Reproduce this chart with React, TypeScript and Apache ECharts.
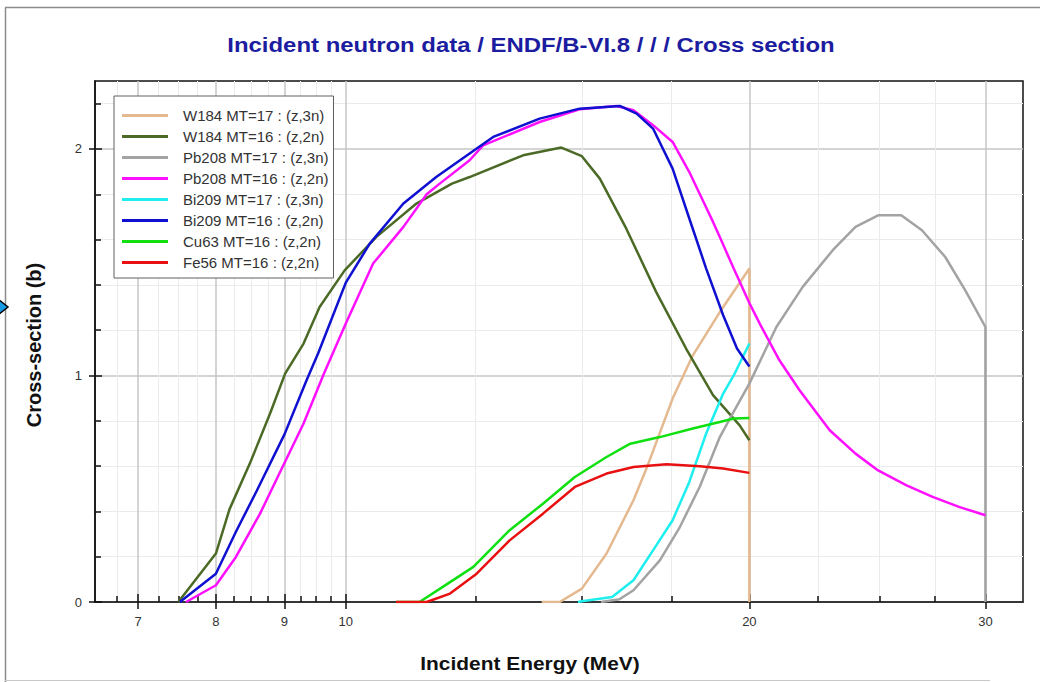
import React, { useEffect, useRef } from "react";
import * as echarts from "echarts";

const FONT = '"Liberation Sans", Arial, Helvetica, sans-serif';

const TITLE = "Incident neutron data / ENDF/B-VI.8 / / / Cross section";
const X_NAME = "Incident Energy (MeV)";
const Y_NAME = "Cross-section (b)";

const SERIES_NAMES = [
  "W184 MT=17 : (z,3n)",
  "W184 MT=16 : (z,2n)",
  "Pb208 MT=17 : (z,3n)",
  "Pb208 MT=16 : (z,2n)",
  "Bi209 MT=17 : (z,3n)",
  "Bi209 MT=16 : (z,2n)",
  "Cu63 MT=16 : (z,2n)",
  "Fe56 MT=16 : (z,2n)",
];
const SERIES_COLORS = [
  "#E5B98F",
  "#4B6A26",
  "#A3A3A3",
  "#FF10FF",
  "#1EEEEE",
  "#1010D0",
  "#10E010",
  "#E81010",
];

// Energies (MeV) and cross sections (b)
const W184_MT17_E = [14.0, 14.44, 15.0, 15.65, 16.39, 16.76, 17.53, 18.15, 19.01, 20.0, 20.0];
const W184_MT17_XS = [0, 0, 0.059, 0.214, 0.449, 0.589, 0.898, 1.089, 1.28, 1.472, 0];

const W184_MT16_E = [7.5, 8.0, 8.19, 8.48, 8.78, 9.01, 9.3, 9.56, 9.98, 10.54, 11.29, 12.0, 12.37, 13.56, 14.48, 15.0, 15.47, 16.19, 17.04, 17.94, 18.79, 19.67, 20.0];
const W184_MT16_XS = [0, 0.214, 0.41, 0.611, 0.832, 1.008, 1.141, 1.302, 1.464, 1.612, 1.759, 1.847, 1.876, 1.972, 2.006, 1.968, 1.869, 1.648, 1.369, 1.119, 0.913, 0.78, 0.714];

const PB208_MT17_E = [15.5, 16.0, 16.39, 17.15, 17.75, 18.37, 19.01, 19.47, 20.0, 20.95, 21.92, 23.08, 24.0, 24.95, 25.96, 26.9, 28.0, 28.98, 30.0, 30.0];
const PB208_MT17_XS = [0, 0.012, 0.052, 0.184, 0.331, 0.51, 0.728, 0.84, 0.964, 1.214, 1.391, 1.553, 1.656, 1.707, 1.707, 1.641, 1.523, 1.376, 1.214, 0];

const PB208_MT16_E = [7.6, 8.0, 8.28, 8.63, 8.97, 9.3, 9.63, 10.0, 10.48, 11.04, 11.49, 11.75, 12.37, 12.66, 13.95, 14.94, 15.92, 16.39, 16.95, 17.53, 18.04, 18.37, 18.79, 19.01, 19.47, 20.0, 20.36, 21.06, 21.8, 22.96, 24.0, 24.95, 26.2, 27.4, 28.7, 30.0];
const PB208_MT16_XS = [0, 0.074, 0.199, 0.39, 0.596, 0.788, 1.008, 1.229, 1.494, 1.656, 1.8, 1.847, 1.95, 2.016, 2.119, 2.175, 2.19, 2.171, 2.105, 2.031, 1.898, 1.8, 1.678, 1.611, 1.472, 1.32, 1.229, 1.067, 0.935, 0.758, 0.655, 0.581, 0.515, 0.464, 0.419, 0.383];

const BI209_MT17_E = [14.9, 15.0, 15.8, 16.39, 16.95, 17.53, 18.04, 18.57, 19.12, 19.47, 20.0];
const BI209_MT17_XS = [0, 0.003, 0.022, 0.096, 0.228, 0.361, 0.53, 0.744, 0.92, 1.0, 1.141];

const BI209_MT16_E = [7.52, 8.0, 8.28, 8.58, 9.0, 9.35, 9.54, 10.0, 10.42, 11.04, 11.68, 12.37, 12.88, 13.95, 14.94, 16.01, 16.48, 16.95, 17.53, 18.04, 18.57, 19.12, 19.58, 20.0];
const BI209_MT16_XS = [0, 0.125, 0.31, 0.49, 0.74, 0.98, 1.1, 1.41, 1.582, 1.759, 1.876, 1.98, 2.053, 2.134, 2.178, 2.19, 2.156, 2.09, 1.913, 1.693, 1.472, 1.266, 1.119, 1.04];

const CU63_MT16_E = [10.9, 11.35, 11.82, 12.45, 13.25, 14.03, 14.82, 15.65, 16.3, 17.15, 18.15, 19.01, 19.47, 20.0];
const CU63_MT16_XS = [0, 0, 0.068, 0.155, 0.317, 0.434, 0.552, 0.64, 0.699, 0.728, 0.766, 0.795, 0.81, 0.812];

const FE56_MT16_E = [10.9, 11.49, 11.96, 12.52, 13.25, 14.03, 14.82, 15.65, 16.39, 17.35, 18.37, 19.12, 20.0];
const FE56_MT16_XS = [0, 0, 0.037, 0.125, 0.272, 0.39, 0.508, 0.567, 0.596, 0.608, 0.599, 0.589, 0.57];

const SERIES_E = [W184_MT17_E, W184_MT16_E, PB208_MT17_E, PB208_MT16_E, BI209_MT17_E, BI209_MT16_E, CU63_MT16_E, FE56_MT16_E];
const SERIES_XS = [W184_MT17_XS, W184_MT16_XS, PB208_MT17_XS, PB208_MT16_XS, BI209_MT17_XS, BI209_MT16_XS, CU63_MT16_XS, FE56_MT16_XS];

// Axis ranges and ticks
const X_MIN = 6.5;
const X_MAX = 32;
const Y_MIN = 0;
const Y_MAX = 2.3;
const X_MAJOR_TICKS = [7, 8, 9, 10, 20, 30];
const X_MINOR_TICKS = [6.75, 7.25, 7.5, 7.75, 8.25, 8.5, 8.75, 9.25, 9.5, 9.75, 12.5, 15, 17.5, 22.5, 25, 27.5];
const Y_MAJOR_TICKS = [0, 1, 2];
const Y_MINOR_TICKS = [0.2, 0.4, 0.6, 0.8, 1.2, 1.4, 1.6, 1.8, 2.2];

const lg = (v: number) => Math.log10(v);

function buildOption(): any {
  const tickLine = { color: "#111", width: 1.5 };
  const xBase = { type: "value", min: lg(X_MIN), max: lg(X_MAX), position: "bottom", gridIndex: 0 };
  const yBase = { type: "value", min: Y_MIN, max: Y_MAX, position: "left", gridIndex: 0 };

  const series = SERIES_NAMES.map((name, i) => ({
    type: "line",
    name,
    data: SERIES_E[i].map((e, j) => [lg(e), SERIES_XS[i][j]]),
    symbol: "none",
    showSymbol: false,
    smooth: false,
    lineStyle: { width: 2.5, color: SERIES_COLORS[i] },
    itemStyle: { color: SERIES_COLORS[i] },
    emphasis: { disabled: true },
  }));

  return {
    animation: false,
    color: SERIES_COLORS,
    backgroundColor: "#ffffff",
    textStyle: { fontFamily: FONT },
    grid: {
      left: 95,
      top: 81,
      width: 928,
      height: 521,
      show: true,
      borderColor: "#111",
      borderWidth: 1.5,
      backgroundColor: "#ffffff",
      outerBoundsMode: "none",
      containLabel: false,
    },
    legend: {
      orient: "vertical",
      left: 114,
      top: 96,
      backgroundColor: "#ffffff",
      borderColor: "#606060",
      borderWidth: 1,
      padding: [9, 5, 5, 8],
      itemWidth: 46,
      itemHeight: 3,
      itemGap: 0,
      icon: "rect",
      selectedMode: false,
      textStyle: { fontSize: 15, color: "#333", fontFamily: FONT, lineHeight: 21, padding: [0, 0, 0, 10] },
      data: SERIES_NAMES,
    },
    xAxis: [
      {
        ...xBase,
        axisLine: { show: true, onZero: false, lineStyle: { color: "#111", width: 1.5 } },
        axisTick: { show: true, inside: false, length: 7, customValues: X_MAJOR_TICKS.map(lg), lineStyle: tickLine },
        axisLabel: {
          show: true,
          customValues: X_MAJOR_TICKS.map(lg),
          formatter: (v: number) => String(Math.round(Math.pow(10, v))),
          margin: 13,
          fontSize: 13,
          color: "#333",
          fontFamily: FONT,
        },
        splitLine: { show: true, lineStyle: { color: "#c6c6c6", width: 1.5 } },
      },
      {
        ...xBase,
        axisLine: { show: false },
        axisTick: { show: true, inside: true, length: 8, customValues: X_MAJOR_TICKS.map(lg), lineStyle: tickLine },
        axisLabel: { show: false },
        splitLine: { show: false },
      },
      {
        ...xBase,
        axisLine: { show: false },
        axisTick: { show: true, inside: true, length: 6, customValues: X_MINOR_TICKS.map(lg), lineStyle: tickLine },
        axisLabel: { show: false },
        splitLine: { show: true, lineStyle: { color: "#ebebeb", width: 1 } },
      },
    ],
    yAxis: [
      {
        ...yBase,
        axisLine: { show: true, onZero: false, lineStyle: { color: "#111", width: 1.5 } },
        axisTick: { show: true, inside: false, length: 6, customValues: Y_MAJOR_TICKS, lineStyle: tickLine },
        axisLabel: {
          show: true,
          customValues: Y_MAJOR_TICKS,
          formatter: (v: number) => String(v),
          margin: 13,
          fontSize: 13,
          color: "#333",
          fontFamily: FONT,
        },
        splitLine: { show: true, lineStyle: { color: "#c6c6c6", width: 1.5 } },
      },
      {
        ...yBase,
        axisLine: { show: false },
        axisTick: { show: true, inside: true, length: 7, customValues: Y_MAJOR_TICKS, lineStyle: tickLine },
        axisLabel: { show: false },
        splitLine: { show: false },
      },
      {
        ...yBase,
        axisLine: { show: false },
        axisTick: { show: true, inside: true, length: 6, customValues: Y_MINOR_TICKS, lineStyle: tickLine },
        axisLabel: { show: false },
        splitLine: { show: true, lineStyle: { color: "#ebebeb", width: 1 } },
      },
    ],
    graphic: [
      { type: "line", silent: true, shape: { x1: 5, y1: 7.5, x2: 1040, y2: 7.5 }, style: { stroke: "#8c8c8c", lineWidth: 1.5 } },
      { type: "line", silent: true, shape: { x1: 5.5, y1: 7.5, x2: 5.5, y2: 682 }, style: { stroke: "#8c8c8c", lineWidth: 1.5 } },
      { type: "line", silent: true, shape: { x1: 5, y1: 680.5, x2: 990, y2: 680.5 }, style: { stroke: "#c8c8c8", lineWidth: 1 } },
      {
        type: "polygon",
        silent: true,
        shape: { points: [[-2, 299], [8, 307], [-2, 315]] },
        style: { fill: "#1a9be8", stroke: "#000", lineWidth: 1.5 },
      },
      {
        type: "text",
        silent: true,
        x: 531,
        y: 45,
        scaleX: 1.14,
        style: {
          text: TITLE,
          fontSize: 21,
          fontWeight: "bold",
          fontFamily: FONT,
          fill: "#1c1ca0",
          align: "center",
          verticalAlign: "middle",
        },
      },
      {
        type: "text",
        silent: true,
        x: 530,
        y: 663,
        scaleX: 1.1,
        style: {
          text: X_NAME,
          fontSize: 19,
          fontWeight: "bold",
          fontFamily: FONT,
          fill: "#111",
          align: "center",
          verticalAlign: "middle",
        },
      },
      {
        type: "text",
        silent: true,
        x: 34,
        y: 345,
        rotation: Math.PI / 2,
        style: {
          text: Y_NAME,
          fontSize: 20,
          fontWeight: "bold",
          fontFamily: FONT,
          fill: "#111",
          align: "center",
          verticalAlign: "middle",
        },
      },
    ],
    series,
  };
}

export default function App() {
  const ref = useRef<HTMLDivElement>(null);
  useEffect(() => {
    if (!ref.current) return;
    const chart = echarts.init(ref.current, undefined, { renderer: "svg" });
    chart.setOption(buildOption());
    return () => chart.dispose();
  }, []);
  return (
    <div
      ref={ref}
      style={{ position: "fixed", left: 0, top: 0, width: 1040, height: 682, background: "#fff" }}
    />
  );
}
